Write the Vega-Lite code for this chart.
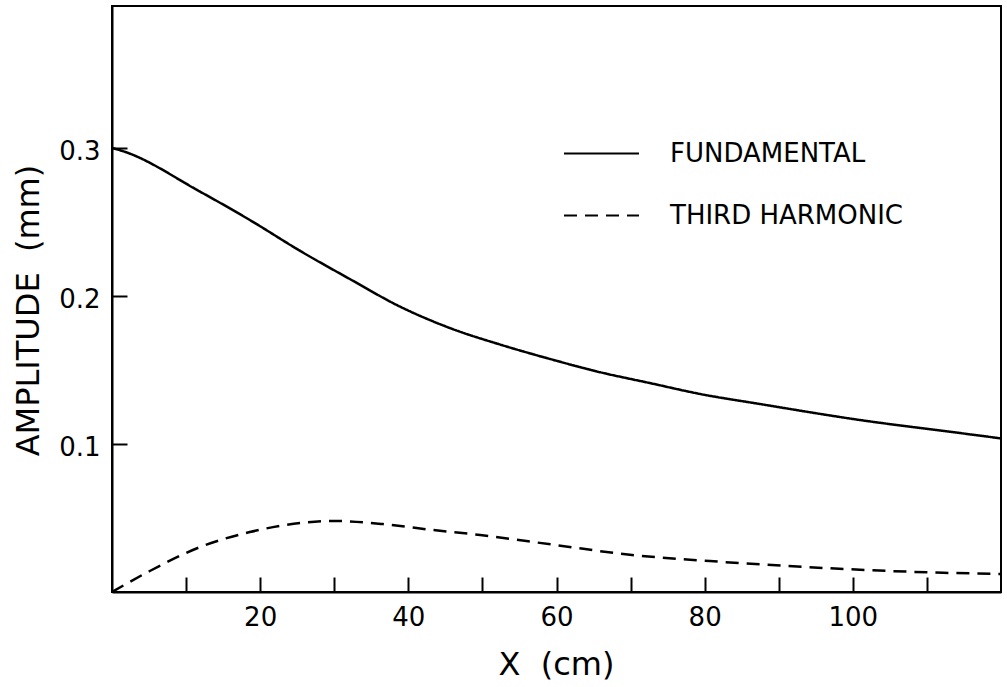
{
  "$schema": "https://vega.github.io/schema/vega-lite/v6.json",
  "width": 889,
  "height": 586,
  "autosize": "none",
  "padding": {"left": 112, "top": 6, "right": 6, "bottom": 95},
  "background": "white",
  "config": {
    "view": {"stroke": "black", "strokeWidth": 2},
    "font": "DejaVu Sans",
    "axis": {
      "grid": false,
      "domainColor": "black",
      "domainWidth": 2,
      "tickColor": "black",
      "tickWidth": 2,
      "tickSize": -15,
      "labelFont": "DejaVu Sans",
      "labelFontSize": 26,
      "labelColor": "black",
      "titleFont": "DejaVu Sans",
      "titleFontSize": 32,
      "titleFontWeight": "normal",
      "titleColor": "black"
    }
  },
  "data": {
    "values": [
      {"x": 0, "amp": 0.300, "series": "FUNDAMENTAL"},
      {"x": 1.1, "amp": 0.2985, "series": "FUNDAMENTAL"},
      {"x": 11.9, "amp": 0.2705, "series": "FUNDAMENTAL"},
      {"x": 18.6, "amp": 0.2514, "series": "FUNDAMENTAL"},
      {"x": 25.4, "amp": 0.2305, "series": "FUNDAMENTAL"},
      {"x": 32.1, "amp": 0.2115, "series": "FUNDAMENTAL"},
      {"x": 38.9, "amp": 0.1928, "series": "FUNDAMENTAL"},
      {"x": 45.6, "amp": 0.1784, "series": "FUNDAMENTAL"},
      {"x": 52.4, "amp": 0.1672, "series": "FUNDAMENTAL"},
      {"x": 59.1, "amp": 0.1575, "series": "FUNDAMENTAL"},
      {"x": 65.9, "amp": 0.1485, "series": "FUNDAMENTAL"},
      {"x": 72.6, "amp": 0.1412, "series": "FUNDAMENTAL"},
      {"x": 79.4, "amp": 0.1338, "series": "FUNDAMENTAL"},
      {"x": 87.5, "amp": 0.127, "series": "FUNDAMENTAL"},
      {"x": 101, "amp": 0.1162, "series": "FUNDAMENTAL"},
      {"x": 114.5, "amp": 0.1074, "series": "FUNDAMENTAL"},
      {"x": 120, "amp": 0.1038, "series": "FUNDAMENTAL"},
      {"x": 0, "amp": 0.000, "series": "THIRD HARMONIC"},
      {"x": 5.1, "amp": 0.0142, "series": "THIRD HARMONIC"},
      {"x": 11.9, "amp": 0.0304, "series": "THIRD HARMONIC"},
      {"x": 18.6, "amp": 0.0405, "series": "THIRD HARMONIC"},
      {"x": 25.4, "amp": 0.0466, "series": "THIRD HARMONIC"},
      {"x": 29.8, "amp": 0.048, "series": "THIRD HARMONIC"},
      {"x": 36.6, "amp": 0.0459, "series": "THIRD HARMONIC"},
      {"x": 43.3, "amp": 0.0419, "series": "THIRD HARMONIC"},
      {"x": 49.7, "amp": 0.0385, "series": "THIRD HARMONIC"},
      {"x": 59.8, "amp": 0.0318, "series": "THIRD HARMONIC"},
      {"x": 70.2, "amp": 0.025, "series": "THIRD HARMONIC"},
      {"x": 80.7, "amp": 0.0209, "series": "THIRD HARMONIC"},
      {"x": 91.2, "amp": 0.0176, "series": "THIRD HARMONIC"},
      {"x": 101.6, "amp": 0.0149, "series": "THIRD HARMONIC"},
      {"x": 112.2, "amp": 0.013, "series": "THIRD HARMONIC"},
      {"x": 120, "amp": 0.0122, "series": "THIRD HARMONIC"}
    ]
  },
  "mark": {"type": "line", "color": "black", "strokeWidth": 2.5, "interpolate": "monotone", "clip": true},
  "encoding": {
    "x": {
      "field": "x",
      "type": "quantitative",
      "scale": {"domain": [0, 120], "nice": false, "zero": false},
      "axis": {
        "title": "X\u00a0 (cm)",
        "values": [10, 20, 30, 40, 50, 60, 70, 80, 90, 100, 110],
        "labelExpr": "datum.value % 20 === 0 ? datum.label : ''",
        "labelPadding": 27,
        "titleX": 444,
        "titleY": 72,
        "titleBaseline": "middle",
        "titleAlign": "center"
      }
    },
    "y": {
      "field": "amp",
      "type": "quantitative",
      "scale": {"domain": [0, 0.396], "nice": false, "zero": false},
      "axis": {
        "title": "AMPLITUDE\u00a0 (mm)",
        "values": [0.1, 0.2, 0.3],
        "format": ".1f",
        "labelPadding": 27,
        "labelOffset": 3,
        "titleX": -84,
        "titleY": 304,
        "titleAngle": -90,
        "titleAlign": "center",
        "titleBaseline": "middle"
      }
    },
    "strokeDash": {
      "field": "series",
      "type": "nominal",
      "scale": {"domain": ["FUNDAMENTAL", "THIRD HARMONIC"], "range": [[1, 0], [13, 8]]},
      "legend": {
        "title": null,
        "orient": "none",
        "legendX": 451,
        "legendY": 109,
        "symbolType": "stroke",
        "symbolSize": 5625,
        "symbolStrokeColor": "black",
        "symbolStrokeWidth": 2,
        "labelFont": "DejaVu Sans",
        "labelFontSize": 26,
        "labelColor": "black",
        "labelLimit": 400,
        "labelOffset": 30,
        "rowPadding": 10
      }
    }
  }
}
